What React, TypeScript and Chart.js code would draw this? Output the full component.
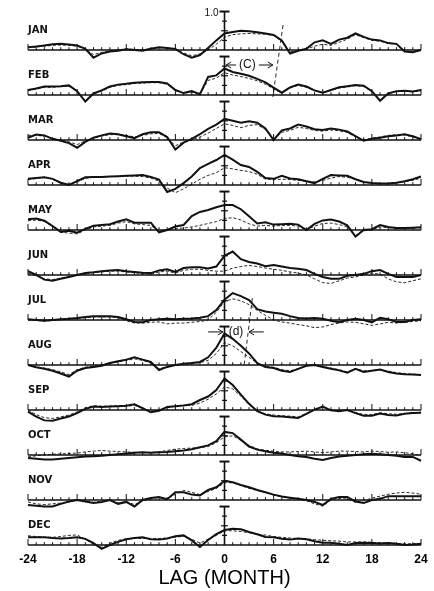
import React, { useEffect, useRef } from 'react';
import { Chart, registerables } from 'chart.js';

Chart.register(...registerables);

const LAGS = [-24,-23,-22,-21,-20,-19,-18,-17,-16,-15,-14,-13,-12,-11,-10,-9,-8,-7,-6,-5,-4,-3,-2,-1,0,1,2,3,4,5,6,7,8,9,10,11,12,13,14,15,16,17,18,19,20,21,22,23,24];
const MONTHS = ['JAN','FEB','MAR','APR','MAY','JUN','JUL','AUG','SEP','OCT','NOV','DEC'];
const X_TICKS = [-24,-18,-12,-6,0,6,12,18,24];
const AXIS_TICKS = [0.25,0.5,0.75];

const janSolid = [0.07,0.09,0.12,0.15,0.16,0.14,0.12,0.03,-0.2,-0.09,-0.04,-0.02,0.02,0,-0.02,0.03,0.07,0.05,0.03,-0.11,-0.2,-0.13,0.05,0.25,0.43,0.47,0.5,0.49,0.46,0.43,0.39,0.25,-0.09,-0.02,0.03,0.2,0.25,0.16,0.27,0.32,0.43,0.34,0.27,0.25,0.18,0.16,-0.04,-0.06,0];
const janDashed = [0.06,0.08,0.1,0.12,0.13,0.12,0.1,0.02,-0.12,-0.06,-0.02,0.0,0.03,0.01,0.0,0.04,0.06,0.05,0.02,-0.08,-0.15,-0.1,0.0,0.15,0.33,0.4,0.42,0.43,0.42,0.41,0.38,0.22,-0.05,-0.02,0.02,0.1,0.15,0.12,0.2,0.28,0.4,0.32,0.25,0.23,0.17,0.15,-0.03,-0.05,0.0];
const febSolid = [0.13,0.17,0.22,0.22,0.23,0.25,0.1,-0.17,0.04,0.12,0.22,0.27,0.29,0.32,0.33,0.34,0.34,0.3,0.13,0.05,0.1,0.02,0.47,0.51,0.69,0.6,0.55,0.5,0.42,0.33,0.19,0.06,0.2,0.27,0.22,0.12,0.06,0.13,0.2,0.23,0.26,0.24,0.1,-0.15,0.04,0.1,0.11,0.09,0.13];
const febDashed = [0.12,0.15,0.2,0.2,0.22,0.23,0.09,-0.14,0.03,0.1,0.2,0.25,0.27,0.3,0.31,0.32,0.32,0.28,0.12,0.05,0.08,0.02,0.38,0.44,0.58,0.52,0.48,0.43,0.37,0.28,0.16,0.05,0.18,0.25,0.2,0.11,0.06,0.12,0.18,0.21,0.24,0.22,0.09,-0.13,0.04,0.09,0.1,0.08,0.11];
const marSolid = [0.06,0.14,0.12,0.03,-0.02,-0.08,-0.2,-0.05,0.06,0.12,0.17,0.15,0.1,0.05,0.15,0.2,0.2,0.08,-0.25,-0.07,0.03,0.15,0.29,0.4,0.55,0.5,0.45,0.49,0.45,0.3,0.0,0.25,0.3,0.4,0.35,0.28,0.26,0.3,0.27,0.22,0.1,-0.02,0.03,0.06,0.1,0.12,0.15,0.1,0.02];
const marDashed = [0.12,0.12,0.1,0.04,0.0,-0.05,-0.12,-0.02,0.05,0.1,0.14,0.14,0.12,0.08,0.12,0.16,0.17,0.06,-0.15,-0.05,0.0,0.08,0.18,0.3,0.42,0.38,0.32,0.38,0.4,0.27,0.02,0.2,0.25,0.33,0.3,0.25,0.23,0.26,0.24,0.2,0.08,0.0,0.05,0.08,0.12,0.14,0.13,0.08,0.02];
const aprSolid = [0.16,0.18,0.2,0.16,0.06,0.0,0.1,0.2,0.21,0.21,0.22,0.23,0.24,0.25,0.26,0.21,0.14,-0.18,-0.1,0.05,0.22,0.44,0.55,0.65,0.78,0.66,0.52,0.47,0.34,0.18,0.16,0.24,0.17,0.15,0.1,0.05,0.16,0.26,0.25,0.24,0.15,0.08,0.05,0.04,0.04,0.06,0.1,0.15,0.22];
const aprDashed = [0.14,0.17,0.2,0.15,0.05,0.02,0.08,0.17,0.2,0.21,0.22,0.22,0.23,0.23,0.22,0.18,0.1,-0.08,-0.2,-0.1,0.02,0.15,0.25,0.32,0.45,0.42,0.38,0.35,0.28,0.15,0.14,0.15,0.14,0.12,0.1,0.08,0.12,0.18,0.22,0.2,0.15,0.08,0.04,0.03,0.04,0.06,0.09,0.12,0.18];
const maySolid = [0.28,0.3,0.24,0.1,-0.05,-0.02,-0.07,0.03,0.11,0.13,0.15,0.22,0.28,0.19,0.19,0.19,-0.06,0.0,0.09,0.13,0.36,0.47,0.52,0.59,0.65,0.65,0.54,0.36,0.17,0.2,0.14,0.15,0.16,0.14,0.0,0.16,0.25,0.27,0.22,0.12,-0.17,0.0,0.02,0.13,0.08,0.05,0.05,0.06,0.07];
const mayDashed = [0.24,0.26,0.22,0.1,-0.06,-0.08,-0.1,0.0,0.08,0.1,0.12,0.18,0.22,0.16,0.14,0.12,-0.04,0.0,0.04,0.05,0.08,0.12,0.17,0.22,0.3,0.32,0.26,0.16,0.1,0.12,0.1,0.12,0.12,0.1,0.0,0.1,0.17,0.18,0.14,0.08,-0.15,-0.02,0.0,0.08,0.06,0.04,0.04,0.05,0.06];
const junSolid = [0.1,0.0,-0.12,-0.15,-0.1,-0.05,0.0,0.05,0.07,0.1,0.12,0.13,0.1,0.08,0.06,0.05,0.12,0.15,0.08,0.18,0.2,0.2,0.17,0.22,0.5,0.61,0.41,0.34,0.3,0.23,0.26,0.22,0.18,0.16,0.13,0.03,-0.05,-0.1,-0.1,-0.02,0.0,0.03,0.1,0.13,0.03,-0.05,-0.05,-0.05,0.0];
const junDashed = [0.05,-0.02,-0.1,-0.12,-0.08,-0.04,0.0,0.04,0.06,0.08,0.1,0.1,0.08,0.06,0.04,0.02,0.08,0.1,0.05,0.12,0.15,0.15,0.12,0.1,0.1,0.18,0.22,0.25,0.22,0.18,0.15,0.12,0.08,0.05,0.0,-0.1,-0.2,-0.22,-0.15,-0.08,-0.05,0.0,0.05,0.02,-0.1,-0.18,-0.2,-0.15,-0.1];
const julSolid = [0.02,0.0,-0.02,0.0,0.02,0.03,0.05,0.08,0.1,0.1,0.1,0.08,0.02,-0.05,-0.06,0.0,0.02,0.03,0.02,0.03,0.04,0.06,0.1,0.26,0.53,0.7,0.62,0.52,0.28,0.22,0.19,0.16,0.1,0.05,0.04,0.05,0.03,-0.02,-0.06,0.0,0.03,0.0,-0.06,0.06,0.02,-0.05,-0.05,0.0,0.02];
const julDashed = [0.01,-0.01,-0.03,-0.01,0.01,0.02,0.04,0.06,0.08,0.08,0.08,0.06,-0.02,-0.08,-0.08,-0.06,-0.05,-0.1,-0.08,-0.08,-0.06,-0.04,0.0,0.2,0.48,0.55,0.5,0.4,0.25,0.12,0.0,-0.05,-0.08,-0.12,-0.15,-0.2,-0.18,-0.12,-0.08,-0.05,-0.06,-0.1,-0.14,-0.1,-0.06,-0.08,-0.06,-0.04,-0.02];
const augSolid = [0.0,-0.06,-0.1,-0.15,-0.22,-0.3,-0.15,-0.08,-0.05,-0.02,0.05,0.1,0.14,0.2,0.14,0.08,-0.13,-0.05,0.0,0.03,0.05,0.08,0.2,0.45,0.82,0.68,0.5,0.3,0.05,-0.05,-0.08,-0.15,-0.18,-0.1,-0.02,0.0,-0.05,-0.1,-0.14,-0.2,-0.1,-0.18,-0.15,-0.12,-0.18,-0.22,-0.24,-0.25,-0.26];
const augDashed = [0.0,-0.05,-0.08,-0.12,-0.18,-0.25,-0.12,-0.06,-0.03,0.0,0.05,0.08,0.12,0.16,0.12,0.06,-0.1,-0.04,0.0,0.02,0.04,0.06,0.12,0.3,0.58,0.5,0.35,0.2,0.05,-0.04,-0.06,-0.12,-0.15,-0.1,-0.03,0.0,-0.04,-0.08,-0.12,-0.18,-0.1,-0.15,-0.14,-0.12,-0.16,-0.2,-0.22,-0.24,-0.25];
const sepSolid = [-0.04,-0.17,-0.27,-0.28,-0.22,-0.17,-0.08,0.03,0.09,0.08,0.09,0.1,0.11,0.15,0.05,-0.06,-0.02,0.08,0.1,0.12,0.15,0.26,0.35,0.52,0.82,0.65,0.4,0.16,-0.03,-0.12,-0.16,-0.17,-0.19,-0.21,-0.1,0.01,0.09,-0.01,-0.03,0.0,-0.08,-0.15,-0.15,-0.09,-0.13,-0.14,-0.1,-0.08,-0.07];
const sepDashed = [0.0,-0.12,-0.2,-0.22,-0.18,-0.13,-0.05,0.06,0.11,0.1,0.1,0.11,0.1,0.12,0.04,-0.05,0.0,0.06,0.1,0.12,0.12,0.18,0.28,0.42,0.6,0.55,0.36,0.14,-0.02,-0.1,-0.13,-0.15,-0.16,-0.18,-0.09,0.0,0.07,0.0,-0.02,0.0,-0.06,-0.12,-0.12,-0.07,-0.1,-0.11,-0.09,-0.07,-0.06];
const octSolid = [-0.08,-0.1,-0.12,-0.12,-0.1,-0.08,-0.06,-0.04,-0.03,-0.02,0.0,0.02,0.04,0.06,0.07,0.06,0.07,0.08,0.1,0.12,0.15,0.2,0.25,0.36,0.6,0.57,0.4,0.22,0.14,0.1,0.06,0.04,0.0,-0.03,-0.05,-0.1,-0.13,-0.08,-0.04,-0.02,0.0,0.02,0.03,0.02,0.0,-0.02,-0.05,-0.05,-0.15];
const octDashed = [-0.05,-0.02,0.0,0.02,0.03,0.04,0.05,0.08,0.1,0.12,0.1,0.09,0.08,0.07,0.06,0.07,0.08,0.12,0.15,0.17,0.18,0.19,0.22,0.32,0.47,0.5,0.38,0.25,0.16,0.12,0.1,0.08,0.08,0.09,0.1,0.08,0.06,0.08,0.1,0.1,0.09,0.08,0.1,0.09,0.07,0.08,0.06,0.03,-0.02];
const novSolid = [-0.13,-0.15,-0.17,-0.17,-0.1,-0.04,0.0,-0.04,-0.08,-0.05,0.0,-0.1,-0.05,-0.17,0.0,0.05,0.08,0.02,0.2,0.2,0.14,0.12,0.26,0.33,0.5,0.46,0.39,0.33,0.26,0.2,0.14,0.09,0.06,0.03,0.0,-0.05,-0.13,0.03,0.08,0.08,-0.04,-0.08,0.0,0.03,0.1,0.1,0.1,0.1,0.1];
const novDashed = [-0.05,-0.1,-0.12,-0.1,-0.08,-0.05,0.0,-0.03,-0.06,-0.04,0.0,-0.08,-0.04,-0.12,-0.02,0.04,0.06,0.03,0.15,0.25,0.2,0.14,0.22,0.3,0.45,0.45,0.38,0.3,0.25,0.2,0.13,0.09,0.05,0.02,-0.02,-0.1,-0.16,0.0,0.05,0.02,-0.06,-0.02,0.05,0.1,0.15,0.18,0.2,0.18,0.15];
const decSolid = [0.2,0.2,0.2,0.18,0.17,0.18,0.2,0.16,0.05,-0.1,0.0,0.08,0.15,0.18,0.2,0.15,0.14,0.17,0.23,0.25,0.12,-0.05,0.13,0.28,0.39,0.42,0.41,0.34,0.28,0.21,0.2,0.16,0.14,0.17,0.15,0.1,0.06,0.06,0.03,0.0,0.05,0.06,0.05,0.04,0.05,0.03,0.0,0.01,0.03];
const decDashed = [0.24,0.22,0.2,0.2,0.22,0.25,0.26,0.15,0.02,-0.06,0.05,0.12,0.16,0.17,0.17,0.17,0.17,0.18,0.2,0.23,0.15,0.05,0.15,0.25,0.37,0.37,0.35,0.32,0.28,0.26,0.22,0.2,0.18,0.17,0.16,0.14,0.12,0.11,0.1,0.08,0.08,0.08,0.07,0.06,0.05,0.04,0.03,0.03,0.04];

const SOLID = [janSolid, febSolid, marSolid, aprSolid, maySolid, junSolid, julSolid, augSolid, sepSolid, octSolid, novSolid, decSolid];
const DASHED = [janDashed, febDashed, marDashed, aprDashed, mayDashed, junDashed, julDashed, augDashed, sepDashed, octDashed, novDashed, decDashed];

// annotation guide lines (lag, value, panel index)
const C_LINE_LAGS = [7.15, 5.9];
const C_LINE_VALS = [0.65, -0.05];
const C_LINE_PANELS = [0, 1];
const D_LINE_LAGS = [3.4, 2.4];
const D_LINE_VALS = [0.57, 0.0];
const D_LINE_PANELS = [6, 7];

const PANEL_GAP = 1.17;
const PX_PER_UNIT = 38.46;
const offsetOf = (i: number) => (MONTHS.length - 1 - i) * PANEL_GAP;
const Y_MAX = offsetOf(0) + 44 / PX_PER_UNIT;
const Y_MIN = -2 / PX_PER_UNIT;

const INK = '#111111';

function arrow(ctx: CanvasRenderingContext2D, xFrom: number, xTo: number, y: number) {
  const dir = xTo > xFrom ? 1 : -1;
  ctx.beginPath();
  ctx.moveTo(xFrom, y);
  ctx.lineTo(xTo, y);
  ctx.stroke();
  ctx.beginPath();
  ctx.moveTo(xTo - dir * 5, y - 3);
  ctx.lineTo(xTo, y);
  ctx.lineTo(xTo - dir * 5, y + 3);
  ctx.stroke();
}

const panelPlugin = {
  id: 'panels',
  beforeDatasetsDraw(chart: any) {
    const { ctx } = chart;
    const x = chart.scales.x;
    const y = chart.scales.y;
    ctx.save();
    ctx.strokeStyle = INK;
    ctx.fillStyle = INK;
    const x0 = x.getPixelForValue(LAGS[0]);
    const x1 = x.getPixelForValue(LAGS[LAGS.length - 1]);
    const zx = x.getPixelForValue(0);
    MONTHS.forEach((m, i) => {
      const off = offsetOf(i);
      const by = y.getPixelForValue(off);
      ctx.lineWidth = 1.5;
      ctx.beginPath();
      ctx.moveTo(x0, by);
      ctx.lineTo(x1, by);
      ctx.stroke();
      ctx.lineWidth = 1;
      LAGS.forEach((l) => {
        const px = x.getPixelForValue(l);
        const len = l % 6 === 0 ? 6 : 2.8;
        ctx.beginPath();
        ctx.moveTo(px, by);
        ctx.lineTo(px, by - len);
        ctx.stroke();
      });
      const top = y.getPixelForValue(off + 1);
      ctx.lineWidth = 1.6;
      ctx.beginPath();
      ctx.moveTo(zx, by);
      ctx.lineTo(zx, top);
      ctx.stroke();
      ctx.lineWidth = 1.2;
      AXIS_TICKS.forEach((t) => {
        const ty = y.getPixelForValue(off + t);
        const hw = t === 0.5 ? 3.5 : 2.5;
        ctx.beginPath();
        ctx.moveTo(zx - hw, ty);
        ctx.lineTo(zx + hw, ty);
        ctx.stroke();
      });
      ctx.lineWidth = 2;
      ctx.beginPath();
      ctx.moveTo(zx - 5, top);
      ctx.lineTo(zx + 5, top);
      ctx.stroke();
      ctx.font = 'bold 10px "DejaVu Sans"';
      ctx.textAlign = 'left';
      ctx.textBaseline = 'middle';
      ctx.fillText(m, x0, y.getPixelForValue(off + 0.52));
    });
    ctx.font = '10px "Liberation Sans"';
    ctx.textAlign = 'right';
    ctx.textBaseline = 'middle';
    ctx.fillText('1.0', zx - 6, y.getPixelForValue(offsetOf(0) + 0.95));
    ctx.restore();
  },
  afterDatasetsDraw(chart: any) {
    const { ctx } = chart;
    const x = chart.scales.x;
    const y = chart.scales.y;
    ctx.save();
    ctx.strokeStyle = INK;
    ctx.fillStyle = INK;
    ctx.lineWidth = 1;
    ctx.font = '12px "Liberation Sans"';
    ctx.textAlign = 'center';
    ctx.textBaseline = 'middle';
    const cy = y.getPixelForValue(offsetOf(1) + 0.78);
    arrow(ctx, x.getPixelForValue(1.4), x.getPixelForValue(0.2), cy);
    ctx.fillText('(C)', x.getPixelForValue(2.8), cy);
    arrow(ctx, x.getPixelForValue(4.2), x.getPixelForValue(5.9), cy);
    const dy = y.getPixelForValue(offsetOf(7) + 0.86);
    arrow(ctx, x.getPixelForValue(-2.0), x.getPixelForValue(-0.2), dy);
    ctx.fillText('(d)', x.getPixelForValue(1.4), dy);
    arrow(ctx, x.getPixelForValue(4.8), x.getPixelForValue(3.0), dy);
    ctx.restore();
  },
};

export default function App() {
  const ref = useRef<HTMLCanvasElement | null>(null);
  useEffect(() => {
    if (!ref.current) return;
    const datasets: any[] = [];
    MONTHS.forEach((m, i) => {
      const off = offsetOf(i);
      datasets.push({
        label: m + ' solid',
        data: LAGS.map((l, k) => ({ x: l, y: SOLID[i][k] + off })),
        borderColor: INK,
        borderWidth: 2,
        pointRadius: 0,
        tension: 0,
        fill: false,
        clip: false,
      });
      datasets.push({
        label: m + ' dashed',
        data: LAGS.map((l, k) => ({ x: l, y: DASHED[i][k] + off })),
        borderColor: INK,
        borderWidth: 0.9,
        borderDash: [3, 2],
        pointRadius: 0,
        tension: 0,
        fill: false,
        clip: false,
      });
    });
    datasets.push({
      label: 'c guide',
      data: C_LINE_LAGS.map((l, k) => ({ x: l, y: C_LINE_VALS[k] + offsetOf(C_LINE_PANELS[k]) })),
      borderColor: INK, borderWidth: 0.9, borderDash: [4, 3], pointRadius: 0, clip: false,
    });
    datasets.push({
      label: 'd guide',
      data: D_LINE_LAGS.map((l, k) => ({ x: l, y: D_LINE_VALS[k] + offsetOf(D_LINE_PANELS[k]) })),
      borderColor: INK, borderWidth: 0.9, borderDash: [4, 3], pointRadius: 0, clip: false,
    });

    const chart = new Chart(ref.current, {
      type: 'line',
      data: { datasets },
      options: {
        animation: false,
        responsive: false,
        devicePixelRatio: 1,
        layout: { padding: { left: 28, right: 13, top: 6, bottom: 0 } },
        plugins: { legend: { display: false }, tooltip: { enabled: false } },
        scales: {
          x: {
            type: 'linear',
            min: -24,
            max: 24,
            grid: { display: false, drawTicks: false },
            border: { display: false },
            afterBuildTicks: (s: any) => { s.ticks = X_TICKS.map((v) => ({ value: v })); },
            afterFit: (s: any) => { s.height = 44; },
            ticks: {
              autoSkip: false,
              maxRotation: 0,
              padding: 5,
              color: '#000',
              font: { family: 'Liberation Sans', size: 12, weight: 'bold' },
              callback: (v: any) => String(v),
            },
            title: {
              display: true,
              text: 'LAG (MONTH)',
              color: '#000',
              font: { family: 'Liberation Sans', size: 20, weight: 'normal' },
              padding: { top: 0, bottom: 1 },
            },
          },
          y: { type: 'linear', display: false, min: Y_MIN, max: Y_MAX },
        },
      } as any,
      plugins: [panelPlugin],
    });
    return () => chart.destroy();
  }, []);
  return (
    <div style={{ position: 'fixed', left: 0, top: 0, width: 434, height: 591, background: '#fff' }}>
      <canvas ref={ref} width={434} height={591} style={{ display: 'block' }} />
    </div>
  );
}
